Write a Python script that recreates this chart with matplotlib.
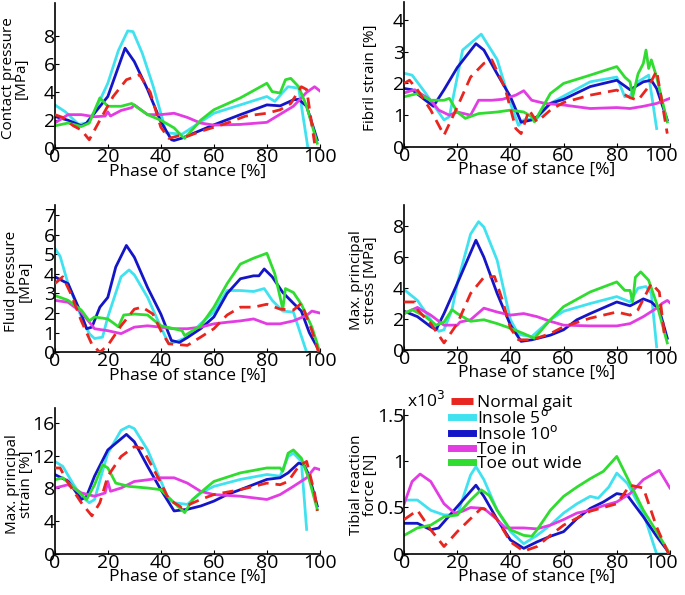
import matplotlib
matplotlib.use('Agg')
import matplotlib.pyplot as plt
import matplotlib.transforms as mtransforms

plt.rcParams['font.family'] = ['Open Sans', 'DejaVu Sans']

labels = ['Normal gait', 'Insole 5$^{\\mathrm{o}}$', 'Insole 10$^{\\mathrm{o}}$', 'Toe in', 'Toe out wide']
colors = ['#e8251f', '#40e2f0', '#1515c8', '#e23ce2', '#30dc30']

# contact pressure [MPa]
cp_normal = [(0, 2.4), (3, 2.2), (7, 1.6), (10, 1.3), (13, 0.6), (17, 2.0), (22, 3.7), (27, 4.9), (32, 5.25),
             (36, 4.0), (40, 1.5), (43, 0.7), (47, 0.9), (50, 0.85), (55, 1.2), (60, 1.5), (65, 1.8), (72, 2.3),
             (80, 2.5), (85, 2.75), (89, 3.2), (93, 4.4), (95, 4.2), (98, 0.35)]
cp_ins5 = [(0, 3.1), (4, 2.6), (9, 1.7), (12, 1.8), (15, 2.6), (20, 4.65), (24, 7.0), (27.5, 8.4), (29.5, 8.35),
           (33, 6.8), (37, 4.5), (40, 2.5), (42, 1.1), (48, 1.0), (52, 1.5), (60, 2.5), (70, 3.1), (80, 3.7),
           (83, 3.35), (86, 4.0), (88, 4.4), (92, 4.3), (95.5, 0.0)]
cp_ins10 = [(0, 2.27), (5, 2.0), (10, 1.6), (12, 1.8), (20, 3.7), (26.5, 7.16), (30, 6.2), (35, 4.2), (40, 1.9),
            (44, 0.6), (45, 0.55), (48, 0.72), (60, 1.67), (70, 2.4), (80, 3.1), (85, 3.03), (90, 3.46),
            (92, 3.5), (95, 3.0), (99, 0.6)]
cp_toein = [(0, 1.8), (5, 2.4), (10, 2.4), (15, 2.25), (19, 2.3), (20, 2.6), (21, 2.3), (25, 2.7), (29, 2.9),
            (30, 3.1), (35, 2.4), (40, 2.4), (45, 2.5), (50, 2.2), (55, 1.8), (60, 1.65), (70, 1.7), (80, 1.85),
            (83, 2.2), (90, 3.0), (95, 4.0), (98, 4.4), (100, 4.1)]
cp_toeout = [(0, 1.6), (5, 1.8), (10, 1.55), (13, 1.8), (17, 3.6), (20, 3.0), (25, 3.0), (29, 3.2), (35, 2.4),
             (40, 2.0), (45, 1.45), (48, 0.85), (49, 0.7), (55, 2.0), (60, 2.75), (70, 3.6), (80, 4.65),
             (82, 4.05), (85, 3.95), (87, 4.9), (89, 5.0), (92, 4.4), (95, 3.0), (99, 0.35)]

# fibril strain [%]
fs_normal = [(0, 2.0), (2, 2.1), (5, 1.8), (10, 1.16), (15, 0.37), (20, 1.26), (25, 2.2), (30, 2.63), (33, 2.74),
             (38, 1.84), (42, 0.58), (44, 0.42), (47, 1.16), (50, 0.79), (55, 1.16), (60, 1.4), (70, 1.63),
             (80, 1.79), (85, 1.55), (88, 1.47), (92, 1.9), (95, 2.4), (99, 0.42)]
fs_ins5 = [(0, 2.32), (3, 2.26), (8, 1.7), (15, 0.85), (17, 0.95), (22, 3.05), (29, 3.55), (35, 2.75), (40, 1.37),
           (43, 0.68), (45, 0.85), (50, 0.9), (55, 1.37), (60, 1.6), (70, 2.05), (80, 2.2), (83, 1.58),
           (85, 1.6), (88, 2.05), (92, 2.26), (95, 0.58)]
fs_ins10 = [(0, 1.84), (3, 1.8), (8, 1.47), (11, 1.28), (15, 1.8), (20, 2.5), (27, 3.25), (30, 3.05), (35, 2.3),
            (40, 1.58), (44, 0.78), (48, 0.85), (50, 0.95), (55, 1.37), (60, 1.5), (70, 1.9), (80, 2.1),
            (85, 1.8), (90, 2.05), (93, 2.1), (95, 1.84), (99, 0.85)]
fs_toein = [(0, 1.7), (4, 1.8), (10, 1.47), (13, 1.16), (17, 1.0), (20, 1.1), (25, 1.0), (28, 1.47), (33, 1.47),
            (37, 1.5), (42, 1.63), (45, 1.77), (48, 1.47), (53, 1.37), (60, 1.32), (70, 1.21), (80, 1.24),
            (85, 1.21), (90, 1.28), (95, 1.37), (100, 1.53)]
fs_toeout = [(0, 1.58), (5, 1.68), (10, 1.47), (15, 1.47), (17, 1.53), (20, 1.1), (23, 0.9), (28, 1.05),
             (35, 1.1), (40, 1.16), (45, 1.1), (48, 0.95), (49, 0.79), (55, 1.68), (60, 2.0), (70, 2.26),
             (80, 2.53), (83, 2.2), (85, 2.05), (86, 1.58), (88, 2.3), (90, 2.63), (91, 3.05), (92, 2.47),
             (93, 2.74), (95, 2.2), (99, 0.79)]

# fluid pressure [MPa]
fp_normal = [(0, 3.5), (3, 3.85), (6, 3.0), (10, 1.6), (14, 0.4), (17, 0.0), (20, 0.35), (25, 1.35), (30, 2.2),
             (33, 2.3), (37, 1.95), (40, 1.1), (43, 0.43), (50, 0.35), (55, 0.77), (60, 1.2), (65, 1.9),
             (70, 2.3), (75, 2.3), (80, 2.45), (85, 2.2), (90, 2.15), (93, 2.5), (97, 1.1), (99.5, 0.0)]
fp_ins5 = [(0, 5.3), (2, 4.9), (5, 3.5), (10, 1.8), (13, 0.95), (15, 0.7), (18, 0.77), (20, 1.8), (25, 3.85),
           (28, 4.2), (30, 3.95), (35, 2.8), (40, 1.28), (43, 0.43), (45, 0.5), (50, 0.77), (55, 1.45),
           (60, 2.05), (65, 3.15), (70, 3.15), (75, 3.1), (79, 3.25), (82, 2.65), (86, 2.1), (90, 2.05),
           (95, 0.0), (100, 0.0)]
fp_ins10 = [(0, 3.85), (5, 3.5), (10, 1.95), (12, 1.2), (14, 1.28), (17, 2.3), (20, 2.8), (23, 4.35), (27, 5.45),
            (30, 4.85), (35, 3.3), (40, 1.95), (44, 0.6), (47, 0.5), (50, 0.75), (55, 1.2), (60, 1.8), (65, 3.0),
            (70, 3.75), (75, 3.9), (77, 3.9), (79, 4.25), (82, 3.85), (86, 3.05), (90, 2.5), (93, 2.1),
            (96, 1.0), (100, 0.0)]
fp_toein = [(0, 2.65), (5, 2.55), (10, 2.05), (15, 1.2), (20, 1.1), (25, 0.95), (30, 1.28), (35, 1.35), (40, 1.28),
            (45, 1.2), (50, 1.2), (55, 1.28), (60, 1.45), (65, 1.53), (70, 1.6), (75, 1.7), (80, 1.45),
            (85, 1.45), (90, 1.6), (95, 1.88), (97, 2.1), (100, 2.0)]
fp_toeout = [(0, 2.9), (5, 2.65), (10, 2.15), (13, 1.6), (15, 1.8), (20, 1.7), (24, 1.3), (26, 1.9), (30, 1.95),
             (35, 1.9), (40, 1.35), (45, 1.2), (48, 1.1), (49, 0.85), (55, 1.35), (60, 2.3), (65, 3.5), (70, 4.5),
             (75, 4.8), (80, 5.05), (83, 4.0), (86, 2.2), (87, 3.25), (90, 3.05), (93, 2.45), (97, 1.28),
             (100, 0.0)]

# max. principal stress [MPa]
ps_normal = [(0, 3.1), (4, 3.1), (5, 2.6), (10, 1.7), (15, 0.45), (20, 1.7), (25, 3.65), (30, 4.7), (34, 4.75),
             (37, 3.2), (40, 1.4), (43, 0.65), (48, 0.65), (55, 1.05), (60, 1.5), (70, 2.05), (80, 2.45),
             (85, 2.25), (88, 2.6), (93, 4.3), (96, 3.75), (98, 0.85)]
ps_ins5 = [(0, 3.9), (5, 3.2), (10, 1.95), (13, 1.2), (15, 1.3), (18, 2.6), (20, 4.3), (25, 7.5), (28, 8.3),
           (30, 7.95), (35, 5.8), (40, 1.95), (43, 1.0), (48, 0.85), (55, 1.95), (60, 2.5), (70, 3.0), (80, 3.45),
           (85, 3.1), (88, 4.0), (91, 4.1), (93, 3.65), (95, 0.2)]
ps_ins10 = [(0, 2.5), (5, 2.15), (10, 1.5), (12, 1.3), (15, 2.35), (20, 4.3), (27, 7.1), (30, 6.0), (35, 3.65),
            (40, 1.6), (44, 0.55), (48, 0.65), (55, 0.95), (60, 1.3), (65, 1.95), (70, 2.35), (80, 3.1),
            (85, 2.85), (90, 3.3), (93, 3.1), (96, 2.6), (99, 0.75)]
ps_toein = [(0, 2.35), (5, 2.75), (10, 2.25), (15, 1.6), (20, 1.6), (21, 1.8), (25, 1.95), (30, 2.7), (35, 2.45),
            (40, 2.25), (45, 2.35), (50, 2.15), (55, 1.85), (60, 1.6), (70, 1.55), (80, 1.55), (85, 1.7),
            (90, 2.15), (95, 2.7), (97, 3.0), (99, 3.2), (100, 3.05)]
ps_toeout = [(0, 2.35), (3, 2.6), (8, 2.15), (12, 1.6), (15, 1.8), (18, 2.6), (20, 2.35), (25, 1.85), (30, 1.95),
             (35, 1.7), (40, 1.4), (45, 1.05), (49, 0.75), (55, 1.95), (60, 2.8), (70, 3.75), (80, 4.4),
             (83, 3.85), (85, 3.85), (86, 3.1), (87, 4.7), (89, 5.05), (92, 4.5), (95, 3.0), (99, 0.45)]

# max. principal strain [%]
pe_normal = [(0, 10.5), (2, 10.5), (5, 8.7), (10, 6.25), (14, 4.65), (17, 6.25), (20, 9.5), (25, 11.9),
             (30, 13.1), (33, 12.9), (36, 11.1), (40, 8.7), (43, 6.65), (48, 5.65), (55, 6.65), (60, 7.25),
             (70, 7.85), (80, 8.65), (85, 8.45), (88, 8.85), (92, 10.7), (95, 11.3), (98, 7.45), (99, 5.25)]
pe_ins5 = [(0, 11.3), (3, 10.7), (7, 8.5), (10, 7.05), (13, 6.25), (15, 6.65), (18, 10.1), (20, 12.3), (25, 15.1),
           (28, 15.6), (30, 15.3), (35, 12.7), (40, 8.9), (43, 6.65), (45, 6.25), (50, 6.05), (55, 7.45),
           (60, 8.25), (70, 9.1), (80, 9.7), (85, 9.5), (88, 11.9), (90, 12.3), (93, 11.3), (95, 3.0)]
pe_ins10 = [(0, 9.7), (5, 8.9), (10, 6.65), (12, 7.05), (15, 9.5), (20, 12.7), (27, 14.6), (30, 13.7), (35, 10.7),
            (40, 7.85), (45, 5.25), (50, 5.45), (55, 5.85), (60, 6.45), (65, 7.25), (70, 7.85), (80, 9.1),
            (85, 9.3), (88, 9.9), (92, 11.1), (94, 10.9), (96, 9.5), (99, 5.85)]
pe_toein = [(0, 8.05), (5, 8.45), (10, 7.45), (15, 7.05), (19, 7.45), (20, 8.85), (21, 7.65), (25, 8.05),
            (30, 8.85), (35, 9.05), (40, 9.3), (45, 9.3), (50, 8.65), (55, 7.65), (60, 7.25), (70, 7.05),
            (80, 6.65), (85, 7.25), (90, 8.25), (95, 9.3), (98, 10.5), (100, 10.3)]
pe_toeout = [(0, 9.05), (3, 9.3), (8, 7.85), (12, 6.65), (15, 8.45), (18, 10.9), (20, 10.5), (23, 8.65),
             (28, 8.25), (35, 8.05), (40, 7.85), (45, 6.25), (49, 5.05), (52, 6.65), (57, 8.05), (60, 8.85),
             (70, 9.9), (80, 10.5), (85, 10.5), (86, 10.1), (88, 12.3), (90, 12.7), (93, 11.7), (96, 9.05),
             (99, 5.45)]

# tibial reaction force [x10^3 N]
tf_normal = [(0, 0.37), (5, 0.47), (10, 0.26), (15, 0.08), (20, 0.24), (25, 0.38), (29, 0.49), (32, 0.47),
             (35, 0.37), (40, 0.13), (45, 0.03), (50, 0.08), (55, 0.2), (60, 0.31), (70, 0.46), (80, 0.54),
             (85, 0.74), (90, 0.71), (95, 0.29), (99.5, 0.0)]
tf_ins5 = [(0, 0.58), (5, 0.58), (10, 0.47), (15, 0.42), (20, 0.42), (25, 0.85), (27, 0.94), (30, 0.8),
           (35, 0.47), (40, 0.24), (45, 0.11), (50, 0.2), (55, 0.31), (60, 0.44), (65, 0.54), (70, 0.62),
           (73, 0.6), (77, 0.72), (80, 0.87), (84, 0.76), (90, 0.44), (95, 0.0), (100, 0.0)]
tf_ins10 = [(0, 0.33), (5, 0.33), (10, 0.26), (13, 0.28), (20, 0.51), (27, 0.74), (30, 0.62), (35, 0.37),
            (40, 0.15), (45, 0.06), (50, 0.13), (55, 0.19), (60, 0.24), (65, 0.38), (70, 0.49), (75, 0.56),
            (80, 0.65), (84, 0.63), (90, 0.4), (95, 0.19), (100, 0.0)]
tf_toein = [(0, 0.54), (3, 0.78), (6, 0.86), (10, 0.78), (15, 0.54), (19, 0.44), (22, 0.46), (25, 0.5), (30, 0.49),
            (35, 0.37), (38, 0.28), (45, 0.28), (50, 0.27), (55, 0.31), (60, 0.37), (65, 0.44), (70, 0.47),
            (75, 0.52), (80, 0.56), (85, 0.65), (90, 0.8), (96, 0.9), (100, 0.71)]
tf_toeout = [(0, 0.2), (5, 0.28), (10, 0.31), (15, 0.4), (20, 0.42), (25, 0.58), (29, 0.69), (32, 0.63),
             (35, 0.47), (40, 0.26), (45, 0.2), (48, 0.19), (50, 0.26), (55, 0.47), (60, 0.62), (65, 0.72),
             (70, 0.81), (75, 0.89), (80, 1.05), (85, 0.76), (90, 0.47), (95, 0.24), (100, 0.0)]

panels = [
    ([cp_normal, cp_ins5, cp_ins10, cp_toein, cp_toeout], 'Contact pressure\n[MPa]', [0, 2, 4, 6, 8], 10.4),
    ([fs_normal, fs_ins5, fs_ins10, fs_toein, fs_toeout], 'Fibril strain [%]', [0, 1, 2, 3, 4], 4.55),
    ([fp_normal, fp_ins5, fp_ins10, fp_toein, fp_toeout], 'Fluid pressure\n[MPa]', [0, 1, 2, 3, 4, 5, 6, 7], 7.5),
    ([ps_normal, ps_ins5, ps_ins10, ps_toein, ps_toeout], 'Max. principal\nstress [MPa]', [0, 2, 4, 6, 8], 9.4),
    ([pe_normal, pe_ins5, pe_ins10, pe_toein, pe_toeout], 'Max. principal\nstrain [%]', [0, 4, 8, 12, 16], 17.8),
    ([tf_normal, tf_ins5, tf_ins10, tf_toein, tf_toeout], 'Tibial reaction\nforce [N]', [0, 0.5, 1, 1.5], 1.55),
]

# axes boxes in figure fractions [left, bottom, width, height]
boxes = [
    [0.080, 0.751, 0.387, 0.244], [0.590, 0.753, 0.388, 0.243],
    [0.080, 0.408, 0.387, 0.247], [0.590, 0.412, 0.388, 0.244],
    [0.080, 0.069, 0.387, 0.245], [0.590, 0.069, 0.388, 0.242],
]
# right edge of each y label block, in axes fractions
ylab_x = [-0.097, -0.10, -0.085, -0.10, -0.08, -0.10]

fig = plt.figure(figsize=(6.85, 5.95), dpi=100)

for k, ((series, ylab, yticks, ytop), box, lx) in enumerate(zip(panels, boxes, ylab_x)):
    ax = fig.add_axes(box)
    for i, pts in enumerate(series):
        xs, ys = zip(*pts)
        if i == 0:
            ax.plot(xs, ys, color=colors[i], lw=2, ls=(0, (4, 2.5)), label=labels[i], zorder=5)
        else:
            ax.plot(xs, ys, color=colors[i], lw=2, label=labels[i])
    ax.set_xlim(0, 100)
    ax.set_ylim(0, ytop)
    ax.set_xticks([0, 20, 40, 60, 80, 100])
    ax.set_yticks(yticks)
    ax.set_yticklabels(['%g' % t for t in yticks])
    ax.spines['top'].set_visible(False)
    ax.spines['right'].set_visible(False)
    ax.spines['left'].set_linewidth(1.2)
    ax.spines['bottom'].set_linewidth(1.2)
    ax.tick_params(direction='in', length=3, labelsize=14, pad=0)
    ax.set_xlabel('Phase of stance [%]', fontsize=12.5, labelpad=-2)
    ax.set_ylabel(ylab, fontsize=11, linespacing=0.85)
    ax.yaxis.set_label_coords(lx, 0.48)
    # keep the last x tick label inside the figure on the right column
    if k % 2 == 1:
        lab = ax.get_xticklabels()[-1]
        lab.set_transform(lab.get_transform() + mtransforms.ScaledTranslation(-0.09, 0, fig.dpi_scale_trans))

last = fig.axes[-1]
last.text(0.012, 0.99, 'x10$^3$', transform=last.transAxes, fontsize=12.5, va='bottom', ha='left')
handles, labs = last.get_legend_handles_labels()
leg = last.legend(handles, labs, loc='upper left', bbox_to_anchor=(0.658, 0.337), bbox_transform=fig.transFigure,
                  frameon=False, fontsize=12.5, handlelength=1.3, handletextpad=0.2, labelspacing=-0.1,
                  borderpad=0, borderaxespad=0)
for h in leg.get_lines():
    h.set_linewidth(5)

fig.savefig('out.png', dpi=100)
